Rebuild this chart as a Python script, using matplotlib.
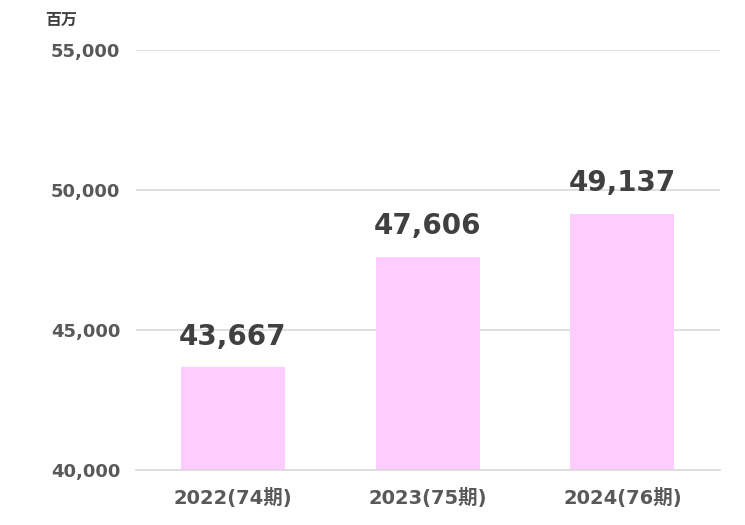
import matplotlib.pyplot as plt

plt.rcParams['font.family'] = ['DejaVu Sans', 'Noto Sans CJK JP']

categories = ['2022(74期)', '2023(75期)', '2024(76期)']
values = [43667, 47606, 49137]
yticks = [40000, 45000, 50000, 55000]

fig = plt.figure(figsize=(7.45, 5.25), dpi=100)
ax = fig.add_axes([0.182, 0.1048, 0.784, 0.8])

x = range(len(categories))
bars = ax.bar(x, values, width=0.535, color='#FFCCFF', zorder=2)

ax.set_xlim(-0.5, 2.5)
ax.set_ylim(40000, 55000)
ax.set_yticks(yticks)
ax.set_yticklabels(['{:,}'.format(v) for v in yticks])
ax.set_xticks(list(x))
ax.set_xticklabels(categories)

ax.grid(axis='y', color='#d9d9d9', linewidth=1.2, zorder=0)
for s in ['top', 'right', 'left']:
    ax.spines[s].set_visible(False)
ax.spines['bottom'].set_color('#d9d9d9')
ax.spines['bottom'].set_linewidth(1.2)
ax.tick_params(axis='both', length=0, colors='#595959', labelsize=13)
ax.tick_params(axis='x', labelsize=14)
ax.tick_params(axis='y', pad=11)
ax.tick_params(axis='x', pad=13)
for lab in ax.get_xticklabels() + ax.get_yticklabels():
    lab.set_fontweight('bold')

for xi, v in zip(x, values):
    ax.annotate('{:,}'.format(v), (xi, v), xytext=(0, 12), textcoords='offset points',
                ha='center', va='bottom', fontsize=20, fontweight='bold', color='#404040')

fig.text(45 / 745, 1 - 20 / 525, '百万', fontsize=11.5, fontweight='bold',
         family=['Noto Sans CJK JP'], color='#404040', ha='left', va='center')

fig.savefig('out.png')
